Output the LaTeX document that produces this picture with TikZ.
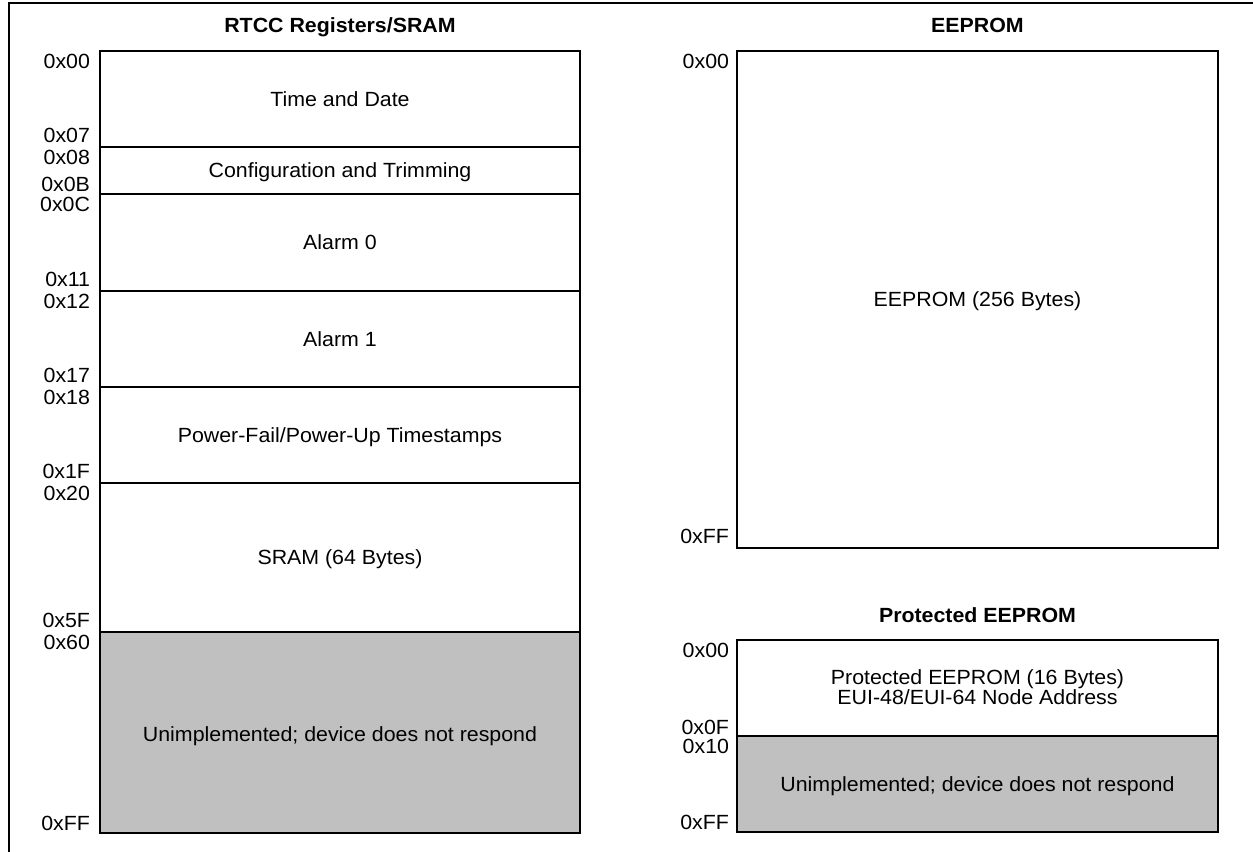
\documentclass[tikz,border=0pt]{standalone}
\usepackage{fontspec}
\setmainfont{Liberation Sans}[FakeStretch=1.04]
\definecolor{unimpl}{RGB}{192,192,192}
\begin{document}
\begin{tikzpicture}[x=0.75pt,y=-0.75pt,line width=1.5pt,
  every node/.style={font=\fontsize{15.4}{20}\selectfont,inner sep=0pt},
  addr/.style={anchor=base east},
  ttl/.style={anchor=base,font=\fontsize{15.4}{20}\selectfont\bfseries},
  body/.style={anchor=base}]
\useasboundingbox (0,0) rectangle (1253,852);
% frame
\draw (8.5,852) -- (8.5,3.5) -- (1253,3.5);
% ---------- RTCC Registers / SRAM ----------
\node[ttl] (t1) at (340,33) {RTCC Registers/SRAM};
\fill[unimpl] (100,632) rectangle (580,833);
\draw (100,51) rectangle (580,833);
\foreach \yy in {146.7,194.3,290.7,386.7,482.7,632} \draw (100,\yy) -- (580,\yy);
\node[body] (b1) at (340,106.4) {Time and Date};
\node[body] (b2) at (340,178.0) {Configuration and Trimming};
\node[body] (b3) at (340,250.0) {Alarm 0};
\node[body] (b4) at (340,346.2) {Alarm 1};
\node[body] (b5) at (340,442.2) {Power-Fail/Power-Up Timestamps};
\node[body] (b6) at (340,564.9) {SRAM (64 Bytes)};
\node[body] (b7) at (340,741.5) {Unimplemented; device does not respond};
% addresses left
\node[addr] (a00) at (91,68.5) {0x00};
\node[addr] (a07) at (91,142.2) {0x07};
\node[addr] (a08) at (91,164.2) {0x08};
\node[addr] (a0B) at (91,192) {0x0B};
\node[addr] (a0C) at (91,211.8) {0x0C};
\node[addr] (a11) at (91,286.2) {0x11};
\node[addr] (a12) at (91,308.2) {0x12};
\node[addr] (a17) at (91,382.2) {0x17};
\node[addr] (a18) at (91,404.2) {0x18};
\node[addr] (a1F) at (91,478.2) {0x1F};
\node[addr] (a20) at (91,500.2) {0x20};
\node[addr] (a5F) at (91,627.5) {0x5F};
\node[addr] (a60) at (91,649.5) {0x60};
\node[addr] (aFF) at (91,830.5) {0xFF};
% ---------- EEPROM ----------
\node[ttl] (t2) at (977.5,33) {EEPROM};
\draw (737,51) rectangle (1218,548);
\node[body] (e1) at (977.5,307.0) {EEPROM (256 Bytes)};
\node[addr] (e00) at (730,68.5) {0x00};
\node[addr] (eFF) at (730,543) {0xFF};
% ---------- Protected EEPROM ----------
\node[ttl] (t3) at (977.5,622) {Protected EEPROM};
\fill[unimpl] (737,736) rectangle (1218,832);
\draw (737,640) rectangle (1218,832);
\draw (737,736) -- (1218,736);
\node[body] (p1) at (977.5,684) {Protected EEPROM (16 Bytes)};
\node[body] (p2) at (977.5,704.5) {EUI-48/EUI-64 Node Address};
\node[body] (p3) at (977.5,791.5) {Unimplemented; device does not respond};
\node[addr] (q00) at (730,657) {0x00};
\node[addr] (q0F) at (730,734) {0x0F};
\node[addr] (q10) at (730,753) {0x10};
\node[addr] (qFF) at (730,829.5) {0xFF};
\end{tikzpicture}
\end{document}
